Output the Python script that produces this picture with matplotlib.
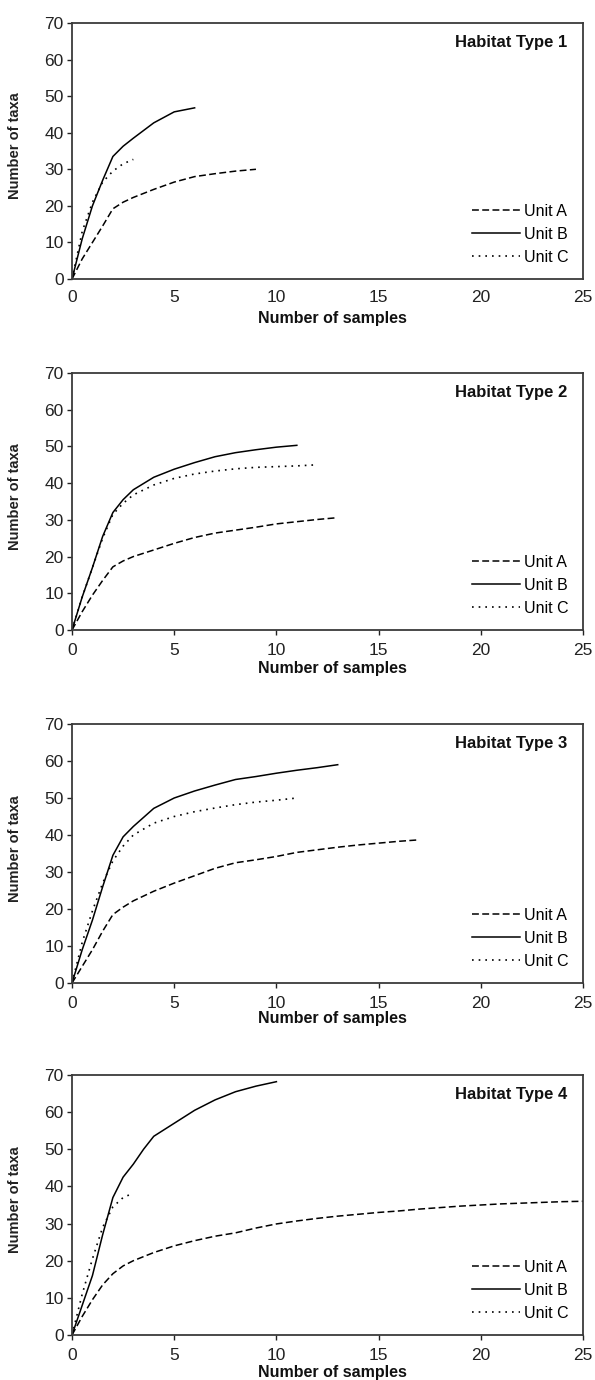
"""
Rarefaction curves (number of taxa vs number of samples) for four habitat types
"""
import matplotlib
matplotlib.use('Agg')
import matplotlib.pyplot as plt

plt.rcParams['font.family'] = ['Liberation Sans', 'DejaVu Sans']

# ---- data ----
x_ticks = [0, 5, 10, 15, 20, 25]
y_ticks = [0, 10, 20, 30, 40, 50, 60, 70]
unit_labels = ['Unit A', 'Unit B', 'Unit C']
habitat_titles = ['Habitat Type 1', 'Habitat Type 2', 'Habitat Type 3', 'Habitat Type 4']

# Habitat type 1
h1_a_x = [0, 0.5, 1, 1.5, 2, 2.5, 3, 4, 5, 6, 7, 8, 9]
h1_a_y = [0, 5.5, 10, 14.5, 19.2, 21, 22.3, 24.5, 26.5, 28, 28.8, 29.5, 30]
h1_b_x = [0, 0.5, 1, 1.5, 2, 2.5, 3, 4, 5, 6]
h1_b_y = [0, 11, 20, 27, 33.5, 36.3, 38.5, 42.7, 45.7, 46.8]
h1_c_x = [0, 0.5, 1, 1.5, 2, 2.5, 3]
h1_c_y = [0, 13, 21, 26.5, 29.5, 31.5, 32.7]

# Habitat type 2
h2_a_x = [0, 0.5, 1, 1.5, 2, 2.5, 3, 4, 5, 6, 7, 8, 9, 10, 11, 12, 13]
h2_a_y = [0, 5, 9.5, 13.5, 17.2, 18.8, 20, 21.8, 23.6, 25.2, 26.4, 27.2, 28, 28.9, 29.5, 30.1, 30.6]
h2_b_x = [0, 0.5, 1, 1.5, 2, 2.5, 3, 4, 5, 6, 7, 8, 9, 10, 11]
h2_b_y = [0, 9, 17, 25.5, 32, 35.5, 38.2, 41.6, 43.8, 45.6, 47.2, 48.3, 49.1, 49.8, 50.3]
h2_c_x = [0, 0.5, 1, 1.5, 2, 2.5, 3, 4, 5, 6, 7, 8, 9, 10, 11, 12]
h2_c_y = [0, 9, 17, 25, 31.5, 34.5, 36.8, 39.5, 41.3, 42.5, 43.3, 43.9, 44.3, 44.5, 44.7, 45]

# Habitat type 3
h3_a_x = [0, 0.5, 1, 1.5, 2, 2.5, 3, 4, 5, 6, 7, 8, 9, 10, 11, 12, 13, 14, 15, 16, 17]
h3_a_y = [0, 4.5, 9, 14, 18.5, 20.5, 22.2, 24.8, 27, 29, 31, 32.5, 33.3, 34.2, 35.3, 36,
          36.7, 37.3, 37.8, 38.3, 38.7]
h3_b_x = [0, 0.5, 1, 1.5, 2, 2.5, 3, 4, 5, 6, 7, 8, 9, 10, 11, 12, 13]
h3_b_y = [0, 9, 17, 26, 34.5, 39.5, 42.3, 47.2, 50, 51.9, 53.5, 55, 55.8, 56.7, 57.5, 58.2, 59]
h3_c_x = [0, 0.5, 1, 1.5, 2, 2.5, 3, 4, 5, 6, 7, 8, 9, 10, 11]
h3_c_y = [0, 11, 19.5, 27, 33, 37, 40, 43.2, 45, 46.3, 47.3, 48.2, 48.9, 49.4, 50]

# Habitat type 4
h4_a_x = [0, 0.5, 1, 1.5, 2, 2.5, 3, 4, 5, 6, 7, 8, 9, 10, 11, 12, 13, 14, 15, 16, 17,
          18, 19, 20, 21, 22, 23, 24, 25]
h4_a_y = [0, 5, 9.5, 13.5, 16.5, 18.6, 20, 22.2, 24, 25.4, 26.6, 27.5, 28.8, 29.9, 30.7,
          31.4, 32, 32.5, 33, 33.4, 33.9, 34.3, 34.7, 35, 35.3, 35.5, 35.7, 35.9, 36]
h4_b_x = [0, 0.5, 1, 1.5, 2, 2.5, 3, 3.5, 4, 5, 6, 7, 8, 9, 10]
h4_b_y = [0, 8, 16, 27, 37, 42.5, 46, 50, 53.5, 57, 60.5, 63.3, 65.5, 67, 68.2]
h4_c_x = [0, 0.5, 1, 1.5, 2, 2.5, 3]
h4_c_y = [0, 11, 20.5, 29, 34.5, 37, 38.2]

panels = [
    [(h1_a_x, h1_a_y), (h1_b_x, h1_b_y), (h1_c_x, h1_c_y)],
    [(h2_a_x, h2_a_y), (h2_b_x, h2_b_y), (h2_c_x, h2_c_y)],
    [(h3_a_x, h3_a_y), (h3_b_x, h3_b_y), (h3_c_x, h3_c_y)],
    [(h4_a_x, h4_a_y), (h4_b_x, h4_b_y), (h4_c_x, h4_c_y)],
]

# ---- layout (pixels of a 595x1380 image) ----
W, H = 595, 1380
ax_left, ax_right = 72, 583
ax_tops = [23, 373, 724, 1075]
ax_bottoms = [279, 630, 983, 1335]
xlabel_y = [318, 668, 1018, 1372]

styles = [
    dict(linestyle=(0, (4.5, 2.2)), color='black', lw=1.1),
    dict(linestyle='-', color='black', lw=1.1),
    dict(linestyle=(0, (1, 3)), color='black', lw=1.2),
]
narrow = ['Liberation Sans Narrow', 'Liberation Sans', 'DejaVu Sans']

fig = plt.figure(figsize=(W / 100, H / 100), dpi=100)

for i, series in enumerate(panels):
    top, bot = ax_tops[i], ax_bottoms[i]
    ax = fig.add_axes([ax_left / W, 1 - bot / H, (ax_right - ax_left) / W, (bot - top) / H])

    for (xs, ys), st, lab in zip(series, styles, unit_labels):
        ax.plot(xs, ys, label=lab, **st)

    ax.set_xlim(0, 25)
    ax.set_ylim(0, 70)
    ax.set_xticks(x_ticks)
    ax.set_yticks(y_ticks)
    for s in ax.spines.values():
        s.set_color('#3a3a3a')
        s.set_linewidth(1.3)

    ax.tick_params(axis='y', direction='out', length=3.5, width=1, pad=2.5,
                   labelsize=12.5, colors='#222222')
    if i == 0:
        ax.tick_params(axis='x', direction='out', length=0, pad=8, labelsize=12.5,
                       colors='#222222')
    else:
        ax.tick_params(axis='x', direction='out', length=3.5, width=1, pad=6,
                       labelsize=12.5, colors='#222222')

    ax.set_ylabel('Number of taxa', fontsize=10.5, fontweight='bold', color='#222222')
    ax.yaxis.set_label_coords(-0.098, 0.52)
    ax.set_xlabel('Number of samples', fontsize=11.5, fontweight='bold', family=narrow,
                  va='center', color='#111111')
    ax.xaxis.set_label_coords(0.51, (bot - xlabel_y[i]) / (bot - top))

    ax.text(0.969, 0.953, habitat_titles[i], transform=ax.transAxes, ha='right', va='top',
            fontsize=12, fontweight='bold', family=narrow, color='#111111')

    ax.legend(loc='lower right', frameon=False, fontsize=11.5, handlelength=3.0,
              handletextpad=0.25, labelspacing=0.5, borderaxespad=0.5)

plt.savefig('out.png', dpi=100, facecolor='white')
